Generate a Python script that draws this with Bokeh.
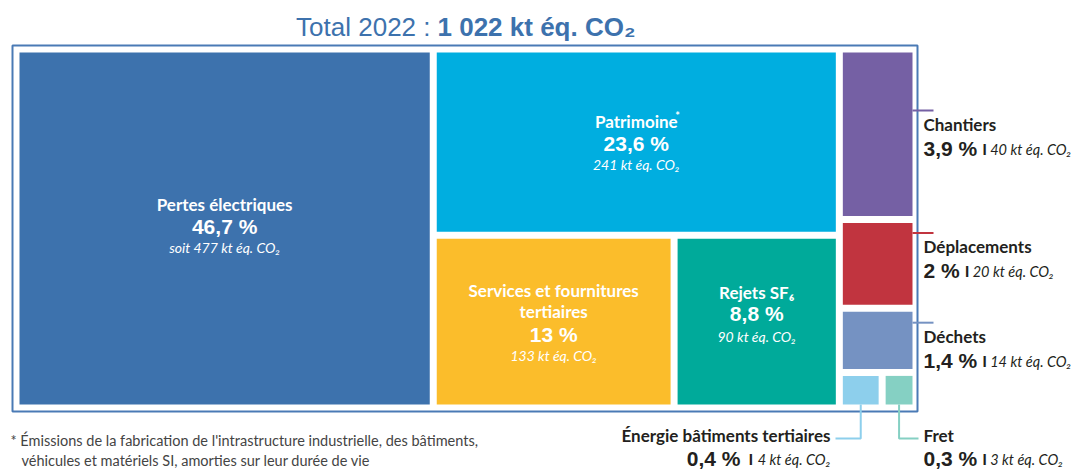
from bokeh.plotting import figure
from bokeh.models import Range1d
from bokeh.core.properties import value
from bokeh.embed import file_html
from bokeh.resources import INLINE

# ---------------- data ----------------
categories = ["Pertes électriques", "Patrimoine", "Services et fournitures\ntertiaires",
              "Rejets SF₆", "Chantiers", "Déplacements", "Déchets",
              "Énergie bâtiments tertiaires", "Fret"]
emissions_kt = [477, 241, 133, 90, 40, 20, 14, 4, 3]
shares_pct = [46.7, 23.6, 13, 8.8, 3.9, 2, 1.4, 0.4, 0.3]
colors = ["#3d72ad", "#00aee0", "#fbbd2b", "#00aa9a", "#7560a4",
          "#c1343f", "#7592c2", "#8dcfec", "#85d0c3"]
footnote_marked = [1]
total_year = "2022"
total_kt = "1 022"
footnote = ["* Émissions de la fabrication de l'intrastructure industrielle, des bâtiments,",
            "véhicules et matériels SI, amorties sur leur durée de vie"]

# treemap structure: h = side by side, v = stacked
tree = ("h", [0, ("v", [1, ("h", [2, 3])]), ("v", [4, 5, 6, ("h", [7, 8])])])

def fmt_pct(v):
    return f"{v:g}".replace(".", ",") + " %"

def node_value(n):
    if isinstance(n, int):
        return emissions_kt[n]
    return sum(node_value(c) for c in n[1])

GAP = 7
rects = {}

def layout(n, x0, y0, x1, y1):
    if isinstance(n, int):
        rects[n] = (x0, y0, x1, y1)
        return
    orient, children = n
    tot = sum(node_value(c) for c in children)
    if orient == "h":
        avail = (x1 - x0) - GAP * (len(children) - 1)
        x = x0
        for c in children:
            w = avail * node_value(c) / tot
            layout(c, x, y0, x + w, y1)
            x += w + GAP
    else:
        avail = (y1 - y0) - GAP * (len(children) - 1)
        y = y0
        for c in children:
            h = avail * node_value(c) / tot
            layout(c, x0, y, x1, y + h)
            y += h + GAP

W, H = 1079, 470
# data coordinates == page pixel coordinates
p = figure(width=W, height=H, output_backend="svg", toolbar_location=None,
           x_range=Range1d(0, W), y_range=Range1d(H, 0),
           min_border=0, outline_line_color=None)
p.axis.visible = False
p.grid.visible = False
p.background_fill_color = "white"
p.border_fill_color = "white"

IX0, IY0, IX1, IY1 = 19, 52, 912, 404
layout(tree, IX0, IY0, IX1, IY1)

idx = list(range(len(categories)))
p.quad(left=[rects[i][0] for i in idx], right=[rects[i][2] for i in idx],
       top=[rects[i][1] for i in idx], bottom=[rects[i][3] for i in idx],
       fill_color=colors, line_color=None)

# outer frame
p.quad(left=[IX0 - 7], right=[IX1 + 5], top=[IY0 - 7], bottom=[IY1 + 7],
       fill_color=None, line_color="#4a7ab5", line_width=2)

SANS = value("Lato")
NUM_FONT = value("Liberation Sans")
WHITE = "white"
DARK = "#231f20"

def txt(x, y, s, size, color, font, style="normal", align="center", base="middle"):
    p.text(x=[x], y=[y], text=[s], text_font=font, text_font_size=f"{size}px",
           text_font_style=style, text_color=color, text_align=align,
           text_baseline=base)

def sub_label(i):
    return f"{emissions_kt[i]} kt éq. CO₂"

# ---- labels inside the big tiles ----
inside = {0: ("soit ", [-24, -2, 19]), 1: ("", [-21, 1, 22]),
          2: ("", [-31, -10, 13, 34]), 3: ("", [-29, -8, 15])}
for i, (prefix, offs) in inside.items():
    x0, y0, x1, y1 = rects[i]
    cx, cy = (x0 + x1) / 2, (y0 + y1) / 2
    names = categories[i].split("\n")
    for k, nm in enumerate(names):
        txt(cx, cy + offs[k], nm, 17, WHITE, SANS, "bold")
    if i in footnote_marked:
        txt(cx + 39, cy + offs[0] - 6, "*", 11, WHITE, SANS, "bold", align="left")
    txt(cx, cy + offs[len(names)], fmt_pct(shares_pct[i]), 21, WHITE, NUM_FONT, "bold")
    txt(cx, cy + offs[len(names) + 1], prefix + sub_label(i), 14, WHITE, SANS, "italic")

# width estimate of bold Arial-metric percent strings
AW = {",": 0.278, " ": 0.278, "%": 0.889}
def pct_width(s, size):
    return sum(AW.get(ch, 0.556) for ch in s) * size

# ---- labels outside on the right ----
LX = 923
right = {4: 58, 5: 10, 6: 11}
for i, dy in right.items():
    x0, y0, x1, y1 = rects[i]
    cy = y0 + dy
    p.line(x=[x1, 933], y=[cy, cy], line_color=colors[i], line_width=2)
    txt(LX, cy + 14, categories[i], 17, DARK, SANS, "bold", align="left")
    ps = fmt_pct(shares_pct[i])
    txt(LX, cy + 38, ps, 21, DARK, NUM_FONT, "bold", align="left")
    xe = LX + pct_width(ps, 21)
    txt(xe + 5, cy + 38, "I", 16, DARK, SANS, "bold", align="left")
    txt(xe + 13, cy + 39, sub_label(i), 14.5, DARK, SANS, "italic", align="left")

# ---- bottom labels ----
CY = 438
# Energie (left)
i = 7
x0, y0, x1, y1 = rects[i]
bx = (x0 + x1) / 2
p.line(x=[bx, bx, 835], y=[y1, CY, CY], line_color=colors[i], line_width=2)
RX = 830
txt(RX, CY - 3, categories[i], 17, DARK, SANS, "bold", align="right")
txt(RX, 459, sub_label(i), 14.5, DARK, SANS, "italic", align="right")
txt(RX - 82, 458, "I", 16, DARK, SANS, "bold", align="left")
txt(RX - 90, 458, fmt_pct(shares_pct[i]), 21, DARK, NUM_FONT, "bold", align="right")
# Fret (right)
i = 8
x0, y0, x1, y1 = rects[i]
bx = (x0 + x1) / 2
p.line(x=[bx, bx, 918], y=[y1, CY, CY], line_color=colors[i], line_width=2)
txt(LX, CY - 3, categories[i], 17, DARK, SANS, "bold", align="left")
ps = fmt_pct(shares_pct[i])
txt(LX, 458, ps, 21, DARK, NUM_FONT, "bold", align="left")
xe = LX + pct_width(ps, 21)
txt(xe + 5, 458, "I", 16, DARK, SANS, "bold", align="left")
txt(xe + 13, 459, sub_label(i), 14.5, DARK, SANS, "italic", align="left")

# ---- title ----
TITLE_C = "#3d72ad"
split_x = 437
txt(split_x - 7, 26, f"Total {total_year} :", 26, TITLE_C, NUM_FONT, "normal", align="right")
txt(split_x, 26, f"{total_kt} kt éq. CO₂", 26, TITLE_C, NUM_FONT, "bold", align="left")

# ---- footnote ----
txt(10, 440, footnote[0], 14.5, "#444444", SANS, "normal", align="left")
txt(21, 460, footnote[1], 14.5, "#444444", SANS, "normal", align="left")

open("out.html", "w").write(file_html(p, INLINE))
